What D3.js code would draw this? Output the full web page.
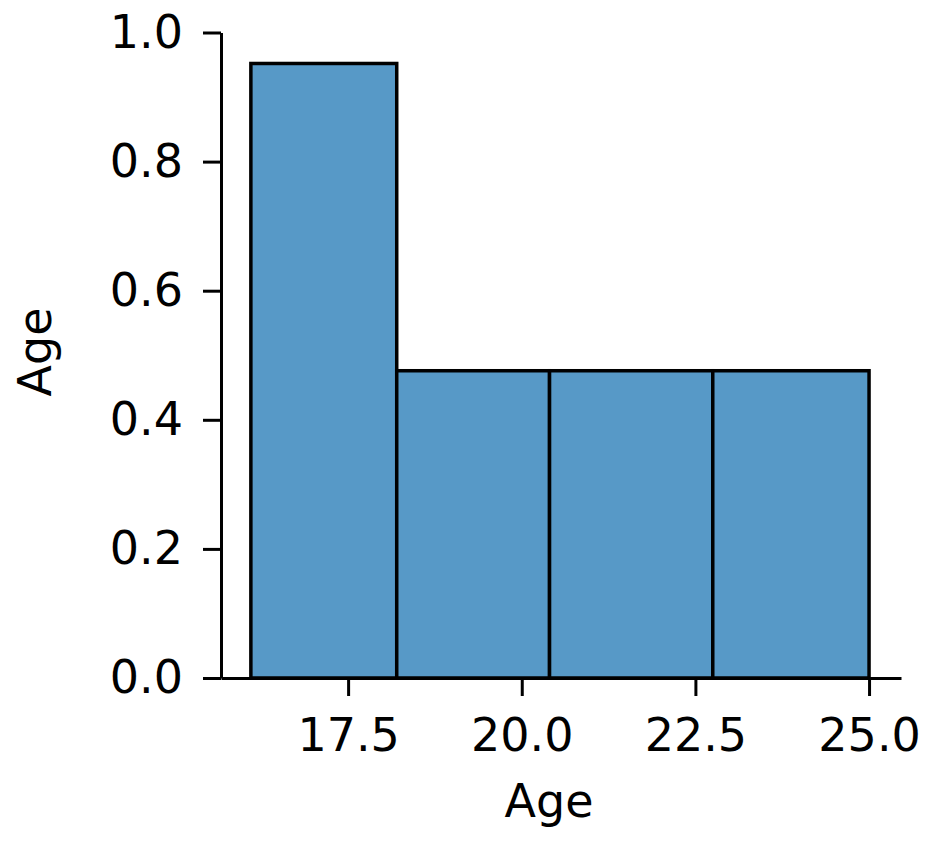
<!DOCTYPE html>
<html>
<head>
<meta charset="utf-8">
<script src="https://cdn.jsdelivr.net/npm/d3@7"></script>
<style>
  body { margin: 0; background: #ffffff; }
  svg { display: block; }
  .axis text { font-family: "DejaVu Sans", sans-serif; font-size: 46px; fill: #000; }
  .axis path, .axis line { stroke: #000; stroke-width: 3px; }
</style>
</head>
<body>
<div id="chart"></div>
<script>
// bin edges of the age histogram and the bar heights
var binEdges   = [16.1, 18.2, 20.4, 22.75, 25.0];
var binHeights = [0.952, 0.476, 0.476, 0.476];
var xTicks     = [17.5, 20.0, 22.5, 25.0];
var yTicks     = [0.0, 0.2, 0.4, 0.6, 0.8, 1.0];
var xTitle     = 'Age';
var yTitle     = 'Age';

var bins = binHeights.map(function(h, i) {
  return { x0: binEdges[i], x1: binEdges[i + 1], value: h };
});

drawHistogram(bins);

function drawHistogram(bins) {

  var w = 937;
  var h = 849;

  var svg = d3.select('#chart').append('svg')
              .attr('width', w)
              .attr('height', h);

  var x = d3.scaleLinear()
            .domain([15.67, 25.46])
            .range([221, 901]);

  var y = d3.scaleLinear()
            .domain([0, 1.0])
            .range([678, 32.5]);

  svg.selectAll('rect.bar')
     .data(bins)
     .enter()
     .append('rect')
     .attr('class', 'bar')
     .attr('x', function(d) { return x(d.x0) })
     .attr('y', function(d) { return y(d.value) })
     .attr('width', function(d) { return x(d.x1) - x(d.x0) })
     .attr('height', function(d) { return y(0) - y(d.value) })
     .attr('fill', '#5799c7')
     .attr('stroke', '#000')
     .attr('stroke-width', 3.5);

  svg.append('g')
     .attr('class', 'axis')
     .attr('transform', 'translate(0,' + y(0) + ')')
     .call(d3.axisBottom(x)
             .tickValues(xTicks)
             .tickFormat(d3.format('.1f'))
             .tickSizeInner(18)
             .tickSizeOuter(0)
             .tickPadding(22));

  svg.append('g')
     .attr('class', 'axis')
     .attr('transform', 'translate(' + x.range()[0] + ',0)')
     .call(d3.axisLeft(y)
             .tickValues(yTicks)
             .tickFormat(d3.format('.1f'))
             .tickSizeInner(18)
             .tickSizeOuter(0)
             .tickPadding(20));

  svg.append('text')
     .attr('x', 549)
     .attr('y', 817)
     .attr('text-anchor', 'middle')
     .style('font-family', '"DejaVu Sans", sans-serif')
     .style('font-size', '46px')
     .text(xTitle);

  svg.append('text')
     .attr('transform', 'translate(51,352) rotate(-90)')
     .attr('text-anchor', 'middle')
     .style('font-family', '"DejaVu Sans", sans-serif')
     .style('font-size', '46px')
     .text(yTitle);
}
</script>
</body>
</html>
